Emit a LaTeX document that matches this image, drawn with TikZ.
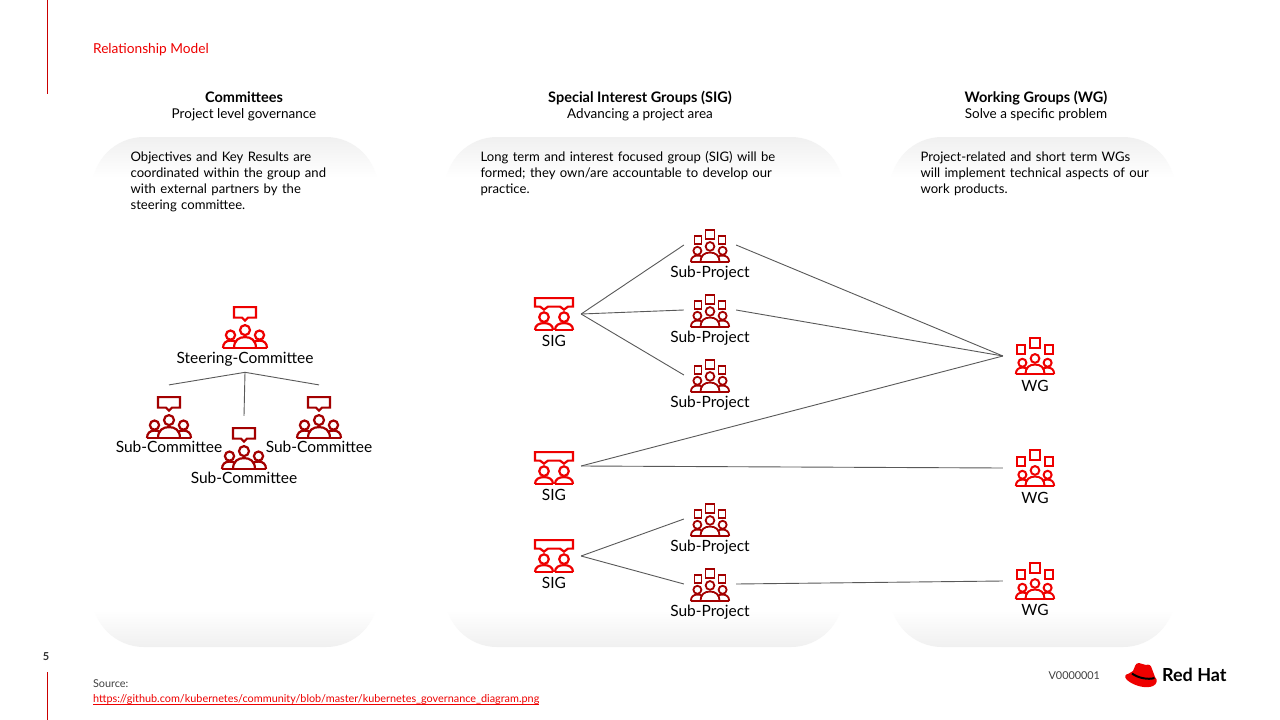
\documentclass[tikz,border=0pt]{standalone}
\usepackage{fontspec}
\setmainfont{Lato}
\usepackage{xcolor}
\usetikzlibrary{positioning}
\definecolor{rhred}{HTML}{EE0000}
\definecolor{rhdark}{HTML}{A30000}
\definecolor{panelgray}{HTML}{F0F0F0}
\newcommand{\panelbox}[2]{%
  \begin{scope}
    \clip[rounded corners=52pt] (#1,137) rectangle (#2,647);
    \shade[top color=panelgray,bottom color=white] (#1,137) rectangle (#2,178);
    \shade[top color=white,bottom color=panelgray] (#1,610) rectangle (#2,647);
  \end{scope}}
\tikzset{
  crowd/.pic={
    \draw (-22,0) -- (22,0);
    \draw (0,-18) circle (5);
    \draw (-14.5,-13) circle (4.6);
    \draw (14.5,-13) circle (4.6);
    \draw (-11,0) .. controls (-11,-8) and (-6,-11) .. (0,-11) .. controls (6,-11) and (11,-8) .. (11,0);
    \draw (-22,0) .. controls (-22,-5) and (-19,-7.5) .. (-14.5,-7.5) .. controls (-12,-7.5) and (-10,-7) .. (-8.5,-6);
    \draw (22,0) .. controls (22,-5) and (19,-7.5) .. (14.5,-7.5) .. controls (12,-7.5) and (10,-7) .. (8.5,-6);
  },
  commicon/.pic={
    \pic {crowd};
    \draw[line join=miter] (-11,-41) -- (11,-41) -- (11,-30.5) -- (3,-30.5) -- (0,-27.5) -- (-3,-30.5) -- (-11,-30.5) -- cycle;
  },
  groupicon/.pic={
    \pic[scale=0.87] {crowd};
    \draw (-4.5,-32) rectangle (4.5,-23);
    \draw (-15.5,-26) rectangle (-8.5,-18);
    \draw (8.5,-26) rectangle (15.5,-18);
  },
  sigicon/.pic={
    \draw (-19,-32) -- (19,-32) -- (19,-23.5) -- (14,-23.5) -- (10,-20.5) -- (6,-23.5) -- (-6,-23.5) -- (-10,-20.5) -- (-14,-23.5) -- (-19,-23.5) -- cycle;
    \draw (-10,-13) circle (4.8);
    \draw (10,-13) circle (4.8);
    \draw (-19,0) -- (-1,0) (1,0) -- (19,0);
    \draw (-19,0) .. controls (-19,-5) and (-15,-7) .. (-10,-7) .. controls (-5,-7) and (-1,-5) .. (-1,0);
    \draw (1,0) .. controls (1,-5) and (5,-7) .. (10,-7) .. controls (15,-7) and (19,-5) .. (19,0);
  }
}
\begin{document}
\begin{tikzpicture}[x=1pt,y=-1pt,line width=2.2pt,
    wire/.style={draw=black!65,line width=0.9pt},
    lbl/.style={inner sep=0pt,text height=10pt,text depth=3pt,minimum height=20pt,
      font=\fontsize{15.5}{16}\selectfont},
    para/.style={inner sep=0pt,anchor=north west,align=left,text width=#1,
      font=\fontsize{13.1}{16}\selectfont},
    head/.style={inner sep=0pt,align=center,font=\fontsize{13.5}{16}\selectfont},
    small/.style={inner sep=0pt,anchor=west,font=\fontsize{10.85}{14}\selectfont},
    commbox/.style={inner sep=0pt,minimum width=50pt,minimum height=51pt},
    projbox/.style={inner sep=0pt,minimum width=50pt,minimum height=32pt},
    sigbox/.style={inner sep=0pt,minimum width=54pt,minimum height=30pt},
    wgbox/.style={inner sep=0pt,minimum width=62pt,minimum height=34pt}]
  \useasboundingbox (0,0) rectangle (1280,720);
  \fill[white] (0,0) rectangle (1280,720);

  \panelbox{92}{378}
  \panelbox{445}{843}
  \panelbox{890}{1175}

  \draw[rhred!85!black,line width=0.8pt] (47.5,0) -- (47.5,94);
  \draw[rhred!85!black,line width=0.8pt] (47.5,672) -- (47.5,720);

  \node[small,text=rhred,font=\fontsize{13.7}{16}\selectfont] (title) at (92,49.5) {Relationship Model};
  \node[head] (h1) at (244,106) {\fontsize{14.5}{16}\selectfont\textbf{Committees}\\Project level governance};
  \node[head] (h2) at (640,106) {\fontsize{14.5}{16}\selectfont\textbf{Special Interest Groups (SIG)}\\Advancing a project area};
  \node[head] (h3) at (1036,106) {\fontsize{14.5}{16}\selectfont\textbf{Working Groups (WG)}\\Solve a specific problem};
  \node[para=210pt] (p1) at (129.5,150.5) {Objectives and Key Results are\\coordinated within the group and\\with external partners by the\\steering committee.};
  \node[para=310pt] (p2) at (479.5,150.5) {Long term and interest focused group (SIG) will be\\formed; they own/are accountable to develop our\\practice.};
  \node[para=240pt] (p3) at (919.5,150.5) {Project-related and short term WGs\\will implement technical aspects of our\\work products.};

  % committees
  \node[commbox] (steer) at (245,321.5) {};
  \node[lbl,minimum height=22pt,below=0pt of steer] (steert) {Steering-Committee};
  \node[commbox] (sub1) at (169,411.5) {};
  \node[lbl,below=0pt of sub1] (sub1t) {Sub-Committee};
  \node[commbox] (sub2) at (244,442.5) {};
  \node[lbl,below=0pt of sub2] (sub2t) {Sub-Committee};
  \node[commbox] (sub3) at (319,411.5) {};
  \node[lbl,below=0pt of sub3] (sub3t) {Sub-Committee};
  \pic[draw=rhred] at (steer.south) {commicon};
  \foreach \n in {sub1,sub2,sub3} \pic[draw=rhdark] at (\n.south) {commicon};

  \draw[wire] (steert.south) -- (sub1.north);
  \draw[wire] (steert.south) -- (sub2.north);
  \draw[wire] (steert.south) -- (sub3.north);

  % groups
  \node[sigbox,minimum width=52pt] (sig1) at (554,314) {};
  \node[lbl,below=2pt of sig1] (sig1t) {SIG};
  \node[sigbox,minimum width=52pt] (sig2) at (554,466) {};
  \node[lbl,below=4pt of sig2] (sig2t) {SIG};
  \node[sigbox,minimum width=52pt] (sig3) at (554,556) {};
  \node[lbl,below=2pt of sig3] (sig3t) {SIG};
  \node[projbox] (sp1) at (710,245) {};
  \node[lbl,below=1pt of sp1] (sp1t) {Sub-Project};
  \node[projbox] (sp2) at (710,310) {};
  \node[lbl,below=1pt of sp2] (sp2t) {Sub-Project};
  \node[projbox] (sp3) at (710,375) {};
  \node[lbl,below=1pt of sp3] (sp3t) {Sub-Project};
  \node[projbox] (sp4) at (710,519) {};
  \node[lbl,below=1pt of sp4] (sp4t) {Sub-Project};
  \node[projbox] (sp5) at (710,584) {};
  \node[lbl,below=1pt of sp5] (sp5t) {Sub-Project};
  \node[wgbox] (wg1) at (1035,356) {};
  \node[lbl,below=3pt of wg1] (wg1t) {WG};
  \node[wgbox] (wg2) at (1035,468) {};
  \node[lbl,below=3pt of wg2] (wg2t) {WG};
  \node[wgbox] (wg3) at (1035,581) {};
  \node[lbl,below=2pt of wg3] (wg3t) {WG};

  \pic[draw=rhred] at (sig1.south) {sigicon};
  \pic[draw=rhred,yshift=-2pt] at (sig2.south) {sigicon};
  \pic[draw=rhred] at (sig3.south) {sigicon};
  \foreach \n in {sp1,sp2,sp3,sp4,sp5} \pic[draw=rhdark,line width=1.8pt] at (\n.south) {groupicon};
  \foreach \n in {wg1,wg2,wg3} \pic[draw=rhred,scale=1.13,line width=2pt] at (\n.south) {groupicon};

  \draw[wire] (sig1.east) -- (sp1.west);
  \draw[wire] (sig1.east) -- (sp2.west);
  \draw[wire] (sig1.east) -- (sp3.west);
  \draw[wire] (sp1.east) -- (wg1.west);
  \draw[wire] (sp2.east) -- (wg1.west);
  \draw[wire] (sig2.east) -- (wg1.west);
  \draw[wire] (sig2.east) -- (wg2.west);
  \draw[wire] (sig3.east) -- (sp4.west);
  \draw[wire] (sig3.east) -- (sp5.west);
  \draw[wire] (sp5.east) -- (wg3.west);

  % footer
  \node[small,anchor=center,font=\fontsize{11}{14}\bfseries\selectfont,text=black!80] (pagenum) at (46,657) {5};
  \node[small,text=black!75] (src) at (92,684) {Source:};
  \node[small,text=rhred] (lnk) at (92,699) {https://github.com/kubernetes/community/blob/master/kubernetes\_governance\_diagram.png};
  \draw[rhred,line width=0.8pt] (93,704) -- (539,704);
  \node[small,text=black!75] (ver) at (1047.5,675.5) {V0000001};

  % logo
  \fill[rhred] (1133,671) .. controls (1135,667) and (1135,663) .. (1139,663) .. controls (1142,663) and (1143,665) .. (1146,665) .. controls (1149,664) and (1151,665) .. (1152,669) -- (1155,677) .. controls (1158,680) and (1157,684) .. (1153,686) .. controls (1146,689) and (1134,686) .. (1127,680) .. controls (1124,677) and (1125,674) .. (1128,674) -- cycle;
  \draw[black,line width=2pt] (1132,673.5) .. controls (1138,678) and (1148,680) .. (1154.5,678);
  \node[small,font=\fontsize{18}{20}\bfseries\selectfont] (rh) at (1161,675) {Red Hat};
\end{tikzpicture}
\end{document}
